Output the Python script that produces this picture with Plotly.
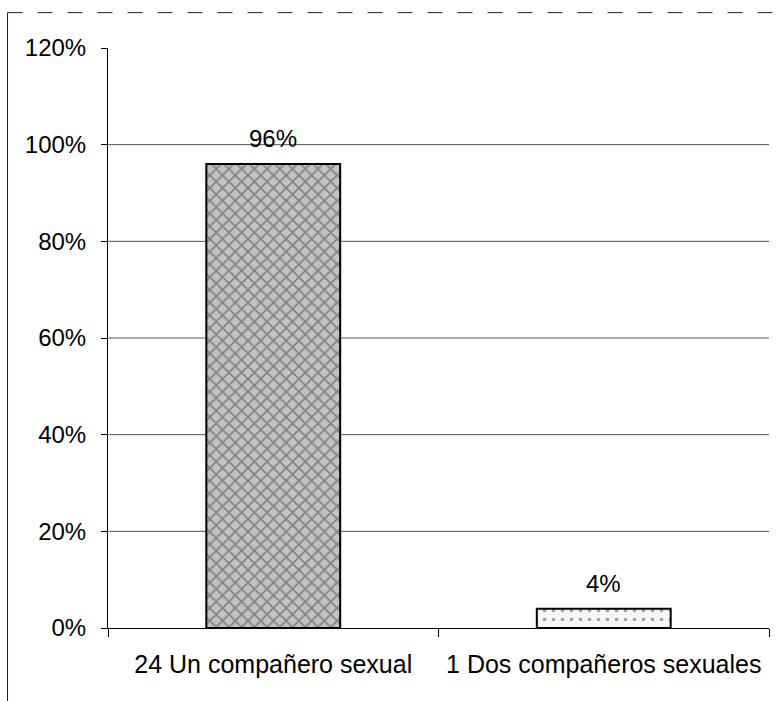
import plotly.graph_objects as go

# Data
categories = ["24 Un compañero sexual", "1 Dos compañeros sexuales"]
shares = [0.96, 0.04]
share_labels = ["96%", "4%"]
y_ticks = [0, 0.2, 0.4, 0.6, 0.8, 1.0, 1.2]
y_tick_text = ["0%", "20%", "40%", "60%", "80%", "100%", "120%"]
grid_values = [0.2, 0.4, 0.6, 0.8, 1.0]

FONT = "Liberation Sans, Arial, sans-serif"

fig = go.Figure()

fig.add_trace(go.Bar(
    x=categories,
    y=shares,
    width=0.405,
    marker=dict(
        color=["#c2c2c2", "#f6f6f6"],
        line=dict(color="black", width=2),
        pattern=dict(
            shape=["x", "."],
            fgcolor=["#7a7a7a", "#cccccc"],
            size=[9, 9],
            solidity=[0.35, 0.12],
        ),
    ),
))

# Value labels above each bar
for cat, val, lab in zip(categories, shares, share_labels):
    fig.add_annotation(x=cat, y=val, text=lab, showarrow=False,
                       yanchor="bottom", yshift=10,
                       font=dict(family=FONT, size=24, color="black"))

# Horizontal gridlines
for g in grid_values:
    fig.add_shape(type="line", xref="paper", yref="y", x0=0, x1=1, y0=g, y1=g,
                  line=dict(color="#555555", width=1), layer="below")

# Outer chart border (top and left edges)
fig.add_shape(type="line", xref="paper", yref="paper",
              x0=-0.152, x1=1.02, y0=1.061, y1=1.061,
              line=dict(color="#222222", width=1, dash="longdash"))
fig.add_shape(type="line", xref="paper", yref="paper",
              x0=-0.152, x1=-0.152, y0=1.061, y1=-0.16,
              line=dict(color="#222222", width=1))

fig.update_layout(
    width=781,
    height=701,
    margin=dict(l=108, r=12, t=48, b=73),
    paper_bgcolor="white",
    plot_bgcolor="white",
    showlegend=False,
    bargap=0.595,
    font=dict(family=FONT, size=24, color="black"),
    xaxis=dict(
        showline=True,
        linecolor="black",
        linewidth=1,
        ticks="outside",
        tickson="boundaries",
        ticklen=8,
        tickcolor="black",
        showgrid=False,
        tickfont=dict(family=FONT, size=25, color="black"),
        ticklabelstandoff=14,
    ),
    yaxis=dict(
        range=[0, 1.2],
        tickvals=y_ticks,
        ticktext=y_tick_text,
        showline=True,
        linecolor="black",
        linewidth=1,
        ticks="outside",
        ticklen=6,
        tickcolor="black",
        showgrid=False,
        zeroline=False,
        tickfont=dict(family=FONT, size=24, color="black"),
        ticklabelstandoff=10,
    ),
)

fig.write_html("out.html")
